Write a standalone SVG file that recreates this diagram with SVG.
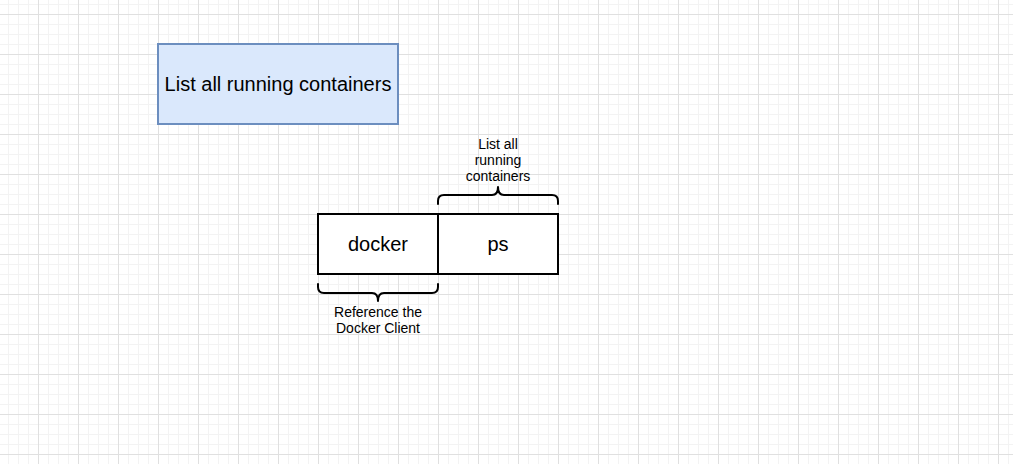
<svg xmlns="http://www.w3.org/2000/svg" width="1013" height="464" viewBox="0 0 1013 464">
  <defs>
    <pattern id="grid" x="38" y="14" width="40" height="40" patternUnits="userSpaceOnUse">
      <path d="M10.5,0V40M20.5,0V40M30.5,0V40M0,10.5H40M0,20.5H40M0,30.5H40" stroke="#f3f3f3" stroke-width="1" fill="none"/>
      <path d="M0.5,0V40M0,0.5H40" stroke="#e0e0e0" stroke-width="1" fill="none"/>
    </pattern>
    <style>
      .lbl { font-family: "Liberation Sans", Arial, sans-serif; fill: #000; text-anchor: middle; }
      .big { font-size: 20px; }
      .small { font-size: 14px; }
      .box { fill: #ffffff; stroke: #000000; stroke-width: 2; }
      .brace { fill: none; stroke: #000000; stroke-width: 2; stroke-linejoin: round; stroke-linecap: round; }
    </style>
  </defs>
  <rect width="1013" height="464" fill="#ffffff"/>
  <rect width="1013" height="464" fill="url(#grid)"/>

  <g id="node-title">
    <rect x="158" y="44" width="240" height="80" fill="#dae8fc" stroke="#6c8ebf" stroke-width="2"/>
    <text class="lbl big" x="278" y="91">List all running containers</text>
  </g>

  <g id="node-docker">
    <rect class="box" x="318" y="214" width="120" height="60"/>
    <text class="lbl big" x="378" y="251">docker</text>
  </g>

  <g id="node-ps">
    <rect class="box" x="438" y="214" width="120" height="60"/>
    <text class="lbl big" x="498" y="251">ps</text>
  </g>

  <g id="node-brace-ps">
    <path class="brace" d="M438,204 L438,201 Q438,195 444,195 L492,195 Q498,195 498,187 Q498,195 504,195 L552,195 Q558,195 558,201 L558,204"/>
    <text class="lbl small" x="498" y="149">List all</text>
    <text class="lbl small" x="498" y="165">running</text>
    <text class="lbl small" x="498" y="181">containers</text>
  </g>

  <g id="node-brace-docker">
    <path class="brace" d="M318,284 L318,287 Q318,293 324,293 L372,293 Q378,293 378,301 Q378,293 384,293 L432,293 Q438,293 438,287 L438,284"/>
    <text class="lbl small" x="378" y="317">Reference the</text>
    <text class="lbl small" x="378" y="333">Docker Client</text>
  </g>

  <g id="connectors"></g>
</svg>
